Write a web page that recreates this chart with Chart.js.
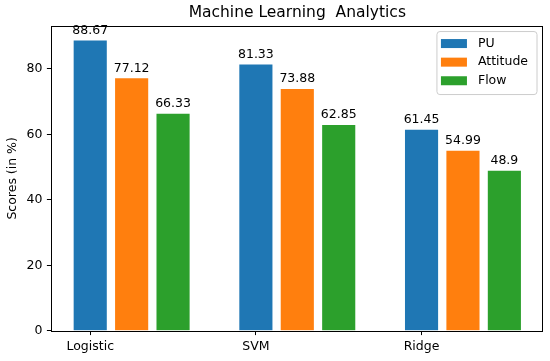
<!DOCTYPE html>
<html><head><meta charset="utf-8">
<script src="https://cdn.jsdelivr.net/npm/chart.js@4"></script>
<style>html,body{margin:0;padding:0;background:#fff}</style>
</head><body>
<canvas id="c" width="550" height="361" style="width:550px;height:361px;display:block"></canvas>
<script>
const categories = ['Logistic', 'SVM', 'Ridge'];
const seriesNames = ['PU', 'Attitude', 'Flow'];
const puScores = [88.67, 81.33, 61.45];
const attitudeScores = [77.12, 73.88, 54.99];
const flowScores = [66.33, 62.85, 48.9];
const yTicks = [0, 20, 40, 60, 80];
const seriesColors = ['#1f77b4', '#ff7f0e', '#2ca02c'];

const FONT = 'DejaVu Sans';
const BAR_STEP = 0.25;
const allSeries = [puScores, attitudeScores, flowScores];

const datasets = allSeries.map((vals, si) => ({
  label: seriesNames[si],
  data: vals.map((v, ci) => ({ x: ci + si * BAR_STEP, y: v })),
  backgroundColor: seriesColors[si],
  borderWidth: 0,
  inflateAmount: 0,
  grouped: false,
  categoryPercentage: 1.0,
  barPercentage: 0.8
}));

const maxVal = Math.max(...allSeries.flat());

const labelsPlugin = {
  id: 'valueLabels',
  afterDatasetsDraw(chart) {
    const ctx = chart.ctx;
    ctx.save();
    ctx.font = '12.5px "' + FONT + '"';
    ctx.fillStyle = '#000';
    ctx.textAlign = 'center';
    ctx.textBaseline = 'alphabetic';
    chart.data.datasets.forEach((ds, di) => {
      const meta = chart.getDatasetMeta(di);
      meta.data.forEach((el, i) => {
        ctx.fillText(String(ds.data[i].y), el.x, el.y - 6.7);
      });
    });
    const a = chart.chartArea;
    ctx.strokeStyle = '#000';
    ctx.lineWidth = 1;
    ctx.strokeRect(Math.round(a.left) + 0.5, Math.round(a.top) + 0.5,
      Math.round(a.right) - Math.round(a.left) - 1, Math.round(a.bottom) - Math.round(a.top));
    ctx.restore();
  },
  afterDraw(chart) {
    const ctx = chart.ctx;
    const a = chart.chartArea;
    ctx.save();
    ctx.font = '12.5px "' + FONT + '"';
    let maxW = 0;
    chart.data.datasets.forEach(ds => { maxW = Math.max(maxW, ctx.measureText(ds.label).width); });
    const w = maxW + 50;
    const right = a.right - 6.3;
    const left = right - w;
    const top = a.top + 5.5;
    const h = 63;
    ctx.beginPath();
    const r = 3;
    ctx.moveTo(left + r, top);
    ctx.arcTo(right, top, right, top + h, r);
    ctx.arcTo(right, top + h, left, top + h, r);
    ctx.arcTo(left, top + h, left, top, r);
    ctx.arcTo(left, top, right, top, r);
    ctx.closePath();
    ctx.fillStyle = 'rgba(255,255,255,0.8)';
    ctx.fill();
    ctx.strokeStyle = '#cccccc';
    ctx.lineWidth = 1;
    ctx.stroke();
    ctx.textAlign = 'left';
    ctx.textBaseline = 'middle';
    chart.data.datasets.forEach((ds, i) => {
      const cy = top + 12 + i * 18.6;
      ctx.fillStyle = ds.backgroundColor;
      ctx.fillRect(left + 4, cy - 4.5, 26, 9);
      ctx.fillStyle = '#000';
      ctx.fillText(ds.label, left + 41, cy);
    });
    ctx.restore();
  }
};

new Chart(document.getElementById('c'), {
  type: 'bar',
  data: { datasets },
  plugins: [labelsPlugin],
  options: {
    responsive: false,
    animation: false,
    devicePixelRatio: 1,
    layout: { padding: { left: 0, right: 6.7, top: 0, bottom: 0 } },
    plugins: {
      legend: { display: false },
      tooltip: { enabled: false },
      title: {
        display: true,
        text: 'Machine Learning  Analytics',
        color: '#000',
        fullSize: false,
        font: { family: FONT, size: 15.5, weight: 'normal', lineHeight: 1.1 },
        padding: { top: 4.5, bottom: 4.5 }
      }
    },
    scales: {
      x: {
        type: 'linear',
        offset: false,
        min: -0.235,
        max: 2.735,
        afterBuildTicks(scale) { scale.ticks = categories.map((c, i) => ({ value: i })); },
        afterFit(scale) { scale.height = 30.3; },
        ticks: {
          autoSkip: false,
          maxRotation: 0,
          color: '#000',
          padding: 4,
          font: { family: FONT, size: 12.5 },
          callback: (v) => categories[v]
        },
        grid: { display: true, offset: false, drawOnChartArea: false, drawTicks: true, tickLength: 4.4, color: '#000', lineWidth: 1 },
        border: { display: false }
      },
      y: {
        min: 0,
        max: maxVal * 1.05,
        afterBuildTicks(scale) { scale.ticks = yTicks.map(v => ({ value: v })); },
        afterFit(scale) { scale.width = 51.3; },
        ticks: {
          color: '#000',
          padding: 4.4,
          font: { family: FONT, size: 12.5 }
        },
        title: {
          display: true,
          text: 'Scores (in %)',
          color: '#000',
          font: { family: FONT, size: 12.5 },
          padding: { top: 5, bottom: 0 }
        },
        grid: { display: true, drawOnChartArea: false, drawTicks: true, tickLength: 4.4, color: '#000', lineWidth: 1 },
        border: { display: false }
      }
    }
  }
});
</script>
</body></html>
